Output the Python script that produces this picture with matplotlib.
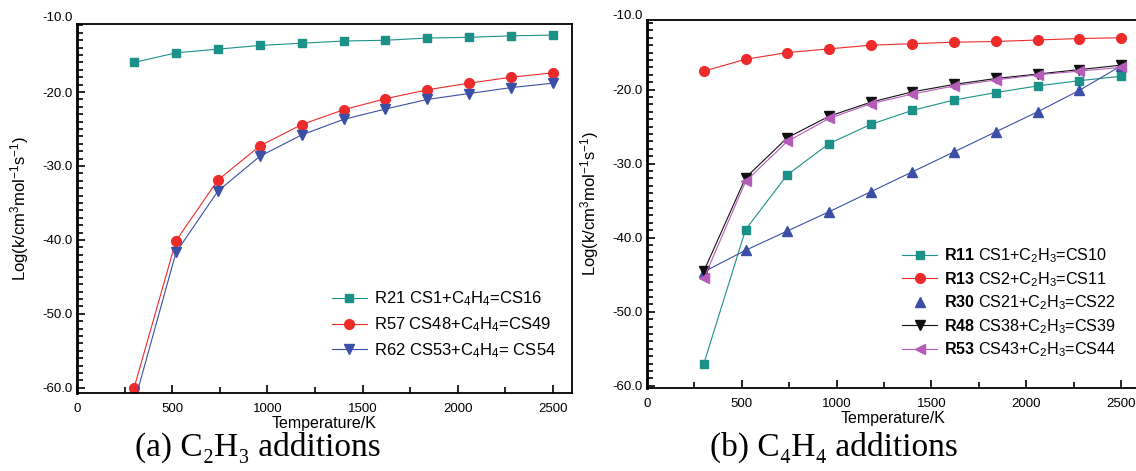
import matplotlib
matplotlib.use("Agg")
import matplotlib.pyplot as plt
from matplotlib.lines import Line2D
from matplotlib.ticker import MultipleLocator, FormatStrFormatter
import matplotlib.transforms as mtransforms

plt.rcParams['font.family'] = ['Liberation Sans', 'DejaVu Sans']
plt.rcParams['mathtext.fontset'] = 'custom'
plt.rcParams['mathtext.rm'] = 'Liberation Sans'
plt.rcParams['mathtext.bf'] = 'Liberation Sans:bold'
plt.rcParams['mathtext.default'] = 'regular'
plt.rcParams['axes.unicode_minus'] = False

# temperatures (K)
temps = [300, 520, 740, 960, 1180, 1400, 1620, 1840, 2060, 2280, 2500]

# (a) panel
r21 = [-16.0, -14.7, -14.2, -13.7, -13.4, -13.1, -13.0, -12.7, -12.6, -12.4, -12.3]
r57 = [-60.0, -40.1, -31.9, -27.3, -24.4, -22.4, -20.9, -19.7, -18.8, -18.0, -17.4]
r62 = [-62.1, -41.7, -33.4, -28.7, -25.8, -23.7, -22.3, -21.0, -20.2, -19.4, -18.8]
labels_a = ["R21 CS1+C$_4$H$_4$=CS16",
            "R57 CS48+C$_4$H$_4$=CS49",
            "R62 CS53+C$_4$H$_4$= CS54"]

# (b) panel
r11 = [-57.0, -38.9, -31.5, -27.3, -24.7, -22.8, -21.4, -20.4, -19.5, -18.8, -18.2]
r13 = [-17.5, -15.9, -15.0, -14.5, -14.0, -13.8, -13.6, -13.5, -13.3, -13.1, -13.0]
r30 = [-44.6, -41.7, -39.1, -36.5, -33.8, -31.1, -28.4, -25.7, -23.0, -20.1, -16.8]
r48 = [-44.5, -31.9, -26.5, -23.6, -21.7, -20.3, -19.3, -18.5, -17.9, -17.3, -16.7]
r53 = [-45.5, -32.4, -27.0, -23.9, -21.9, -20.6, -19.5, -18.7, -18.0, -17.5, -17.0]
labels_b = [r"$\mathbf{R11}$ CS1+C$_2$H$_3$=CS10",
            r"$\mathbf{R13}$ CS2+C$_2$H$_3$=CS11",
            r"$\mathbf{R30}$ CS21+C$_2$H$_3$=CS22",
            r"$\mathbf{R48}$ CS38+C$_2$H$_3$=CS39",
            r"$\mathbf{R53}$ CS43+C$_2$H$_3$=CS44"]

captions = ["(a) C\u2082H\u2083 additions", "(b) C\u2084H\u2084 additions"]

TEAL = '#1b9189'
RED = '#ee2b2b'
BLUE = '#3b4fa6'
BLACK = '#111111'
PURPLE = '#b55cb8'

fig = plt.figure(figsize=(11.36, 4.71), dpi=100)
W, H = 1136, 471


def make_axes(left, right, top, bottom, ylim):
    ax = fig.add_axes([left / W, 1 - bottom / H, (right - left) / W, (bottom - top) / H])
    ax.set_xlim(0, 2600)
    ax.set_ylim(*ylim)
    ax.set_xticks([0, 500, 1000, 1500, 2000, 2500])
    ax.set_yticks([-60, -50, -40, -30, -20])
    ax.xaxis.set_minor_locator(MultipleLocator(250))
    ax.yaxis.set_minor_locator(MultipleLocator(1))
    ax.yaxis.set_major_formatter(FormatStrFormatter('%.1f'))
    ax.tick_params(which='both', direction='in', top=False, right=False,
                   labelsize=9.5, width=1.2)
    ax.tick_params(which='major', length=6)
    ax.tick_params(which='minor', length=4)
    ax.tick_params(axis='x', pad=7)
    ax.tick_params(axis='y', pad=3)
    for s in ax.spines.values():
        s.set_linewidth(1.3)
    ax.spines['left'].set_linewidth(2.0)
    # the -10.0 label sits just above the frame
    trans = mtransforms.blended_transform_factory(ax.transAxes, ax.transData)
    ax.text(-0.008, -10.0, "-10.0", transform=trans, ha='right', va='center',
            fontsize=9.5, clip_on=False)
    ax.set_xlabel("Temperature/K", fontsize=11.5)
    ax.set_ylabel("Log(k/cm$^3$mol$^{-1}$s$^{-1}$)", fontsize=12)
    ax.xaxis.set_label_coords(0.5, -0.062)
    ax.yaxis.set_label_coords(-0.093, 0.5)
    return ax


ax1 = make_axes(77, 572, 24, 393, (-60.7, -10.8))
ax1.plot(temps, r21, color=TEAL, lw=0.8, marker='s', ms=5.5, label=labels_a[0])
ax1.plot(temps, r57, color=RED, lw=0.8, marker='o', ms=7, label=labels_a[1])
ax1.plot(temps, r62, color=BLUE, lw=0.8, marker='v', ms=7, label=labels_a[2])
ax1.legend(loc='upper left', bbox_to_anchor=(0.515, 0.28), frameon=False,
           fontsize=12, handlelength=2.1, handletextpad=0.4, labelspacing=0.42,
           borderpad=0, borderaxespad=0)

ax2 = make_axes(647, 1140, 20, 388, (-60.3, -10.6))
ax2.plot(temps, r11, color=TEAL, lw=0.8, marker='s', ms=5.5)
ax2.plot(temps, r13, color=RED, lw=0.8, marker='o', ms=7)
ax2.plot(temps, r30, color=BLUE, lw=0.8, marker='^', ms=7)
ax2.plot(temps, r48, color=BLACK, lw=0.8, marker='v', ms=7)
ax2.plot(temps, r53, color=PURPLE, lw=0.8, marker='<', ms=7)
handles_b = [
    Line2D([], [], color=TEAL, lw=0.8, marker='s', ms=5.5),
    Line2D([], [], color=RED, lw=0.8, marker='o', ms=7),
    Line2D([], [], color=BLUE, lw=0, marker='^', ms=7),
    Line2D([], [], color=BLACK, lw=0.8, marker='v', ms=7),
    Line2D([], [], color=PURPLE, lw=0.8, marker='<', ms=7),
]
ax2.legend(handles_b, labels_b, loc='upper left', bbox_to_anchor=(0.517, 0.385),
           frameon=False, fontsize=11.6, handlelength=2.2, handletextpad=0.4,
           labelspacing=0.3, borderpad=0, borderaxespad=0)

fig.text(258 / W, 1 - 447 / H, captions[0], ha='center', va='center',
         family=['Liberation Serif', 'DejaVu Serif'], fontsize=24)
fig.text(834 / W, 1 - 447 / H, captions[1], ha='center', va='center',
         family=['Liberation Serif', 'DejaVu Serif'], fontsize=24)

fig.savefig("out.png", dpi=100)
